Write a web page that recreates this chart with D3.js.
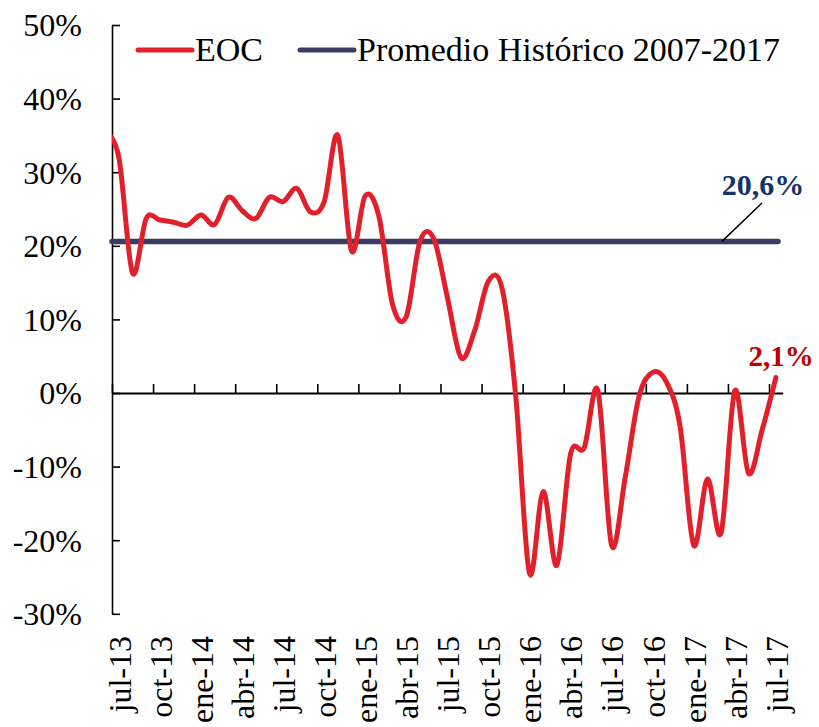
<!DOCTYPE html>
<html>
<head>
<meta charset="utf-8">
<script src="https://cdn.jsdelivr.net/npm/d3@7"></script>
<style>
  body { margin: 0; background: #fff; }
  svg { display: block; font-family: "Liberation Serif", "Times New Roman", serif; }
</style>
</head>
<body>
<svg id="chart" width="819" height="727"></svg>
<script>
/*
  EOC vs promedio historico
*/

// first month (jun-13) sits left of the axis and is clipped, as in the original
var months = ["jun-13",
  "jul-13","ago-13","sep-13","oct-13","nov-13","dic-13",
  "ene-14","feb-14","mar-14","abr-14","may-14","jun-14","jul-14","ago-14","sep-14","oct-14","nov-14","dic-14",
  "ene-15","feb-15","mar-15","abr-15","may-15","jun-15","jul-15","ago-15","sep-15","oct-15","nov-15","dic-15",
  "ene-16","feb-16","mar-16","abr-16","may-16","jun-16","jul-16","ago-16","sep-16","oct-16","nov-16","dic-16",
  "ene-17","feb-17","mar-17","abr-17","may-17","jun-17","jul-17"];

var eocValues = [35.5,
  32.0, 16.3, 23.7, 23.5, 23.2, 22.8,
  24.2, 22.9, 26.6, 24.8, 23.7, 26.6, 26.0, 27.8, 24.6, 26.0, 35.0, 19.3,
  26.8, 24.0, 12.0, 10.4, 20.6, 21.0, 13.0, 4.8, 8.5, 15.2, 14.2, -0.5,
  -24.5, -13.4, -23.4, -8.3, -7.4, 0.3, -20.7, -11.4, -0.5, 2.8, 1.5, -4.5,
  -20.7, -11.7, -19.0, 0.3, -10.9, -5.0, 2.1];

var promedio = 20.6;

var tickLabels = ["jul-13","oct-13","ene-14","abr-14","jul-14","oct-14","ene-15","abr-15",
  "jul-15","oct-15","ene-16","abr-16","jul-16","oct-16","ene-17","abr-17","jul-17"];

var yTicks = [-30, -20, -10, 0, 10, 20, 30, 40, 50];

var seriesNames = ["EOC", "Promedio Histórico 2007-2017"];

var red = "#e2202c",
    navy = "#393b62";

var plot = {left: 112, right: 782.7, top: 25, bottom: 613.8};

var svg = d3.select("#chart");

var data = months.map(function(m, i){ return {label: m, idx: i - 1, y: eocValues[i]}; }),
    last = data[data.length - 1];

// category index -> x, data points centred between tick marks
var x = d3.scaleLinear().domain([-0.5, months.length - 1.5]).range([plot.left, plot.right]);
var y = d3.scaleLinear().domain([-30, 50]).range([plot.bottom, plot.top]);

svg.append("defs").append("clipPath").attr("id", "plotclip")
  .append("rect")
    .attr("x", plot.left)
    .attr("y", 0)
    .attr("width", plot.right - plot.left + 10)
    .attr("height", 727);

// y axis, ticks inside
svg.append("g")
  .attr("class", "y axis")
  .attr("transform", "translate(" + plot.left + ",0)")
  .call(d3.axisLeft(y).tickValues(yTicks).tickSizeInner(-8).tickSizeOuter(0).tickPadding(30)
    .tickFormat(function(d){ return d + "%"; }))
  .call(function(g){
    g.select(".domain").attr("stroke", "#000").attr("stroke-width", 1.6);
    g.selectAll(".tick line").attr("stroke", "#000").attr("stroke-width", 1.6);
    g.selectAll(".tick text").attr("fill", "#000").style("font-size", "32px")
      .style("font-family", "Liberation Serif").attr("dy", "0.34em");
  });

// x axis on the 0% line, a tick every 3 months at category boundaries
var boundaries = d3.range(0, months.length - 1, 3).map(function(i){ return i - 0.5; });

svg.append("g")
  .attr("class", "xAxis")
  .attr("transform", "translate(0," + y(0) + ")")
  .call(d3.axisTop(x).tickValues(boundaries).tickSizeInner(9).tickSizeOuter(0).tickFormat(""))
  .call(function(g){
    g.select(".domain").attr("stroke", "#000").attr("stroke-width", 2);
    g.selectAll(".tick line").attr("stroke", "#000").attr("stroke-width", 1.6);
  });

svg.append("g")
  .selectAll("text")
  .data(tickLabels)
  .enter().append("text")
    .attr("transform", function(d){
      var i = months.indexOf(d) - 1;
      return "translate(" + (x(i) + 1) + ",636) rotate(-90)";
    })
    .attr("dy", "0.34em")
    .style("text-anchor", "end")
    .style("font-size", "32px")
    .text(function(d){ return d; });

// promedio line
svg.append("line")
  .attr("x1", plot.left)
  .attr("x2", 778)
  .attr("y1", y(promedio))
  .attr("y2", y(promedio))
  .attr("stroke", navy)
  .attr("stroke-width", 5.5)
  .attr("stroke-linecap", "round");

svg.append("line")
  .attr("x1", 722)
  .attr("y1", y(promedio))
  .attr("x2", 762)
  .attr("y2", 203)
  .attr("stroke", "#000")
  .attr("stroke-width", 1.5);

svg.append("text")
  .attr("x", 763)
  .attr("y", 195)
  .style("text-anchor", "middle")
  .style("font-size", "30px")
  .style("font-weight", "bold")
  .attr("fill", "#14336b")
  .text(d3.format(".1f")(promedio).replace(".", ",") + "%");

// EOC line
var line = d3.line()
  .x(function(d){ return x(d.idx); })
  .y(function(d){ return y(d.y); })
  .curve(d3.curveCardinal.tension(0));

svg.append("path")
  .datum(data)
  .attr("clip-path", "url(#plotclip)")
  .attr("fill", "none")
  .attr("stroke", red)
  .attr("stroke-width", 5)
  .attr("stroke-linecap", "round")
  .attr("stroke-linejoin", "round")
  .attr("d", line);

svg.append("text")
  .attr("x", 781)
  .attr("y", 366)
  .style("text-anchor", "middle")
  .style("font-size", "29px")
  .style("font-weight", "bold")
  .attr("fill", "#c00000")
  .text(d3.format(".1f")(last.y).replace(".", ",") + "%");

// legend
var legend = svg.append("g").attr("class", "legend");
var legendX = [138, 300],
    colors = [red, navy];

seriesNames.forEach(function(name, i){
  legend.append("line")
    .attr("x1", legendX[i]).attr("x2", legendX[i] + 54)
    .attr("y1", 50).attr("y2", 50)
    .attr("stroke", colors[i])
    .attr("stroke-width", 5)
    .attr("stroke-linecap", "round");
  legend.append("text")
    .attr("x", legendX[i] + 57)
    .attr("y", 61)
    .style("font-size", "34px")
    .text(name);
});
</script>
</body>
</html>
